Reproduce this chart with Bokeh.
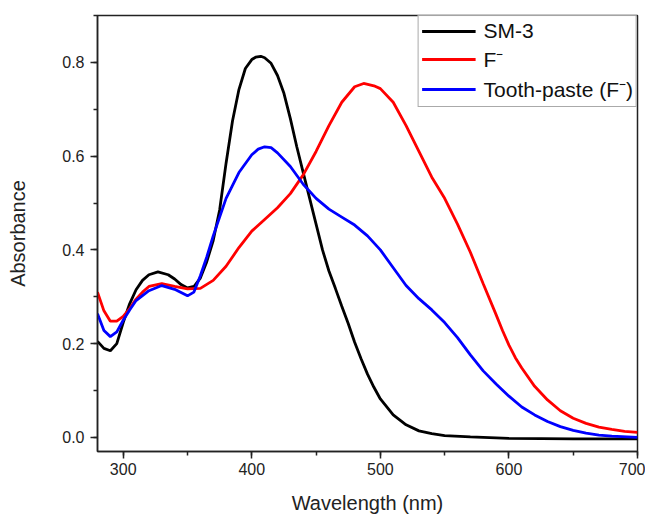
from bokeh.plotting import figure
from bokeh.models import Range1d, SingleIntervalTicker, Legend, LegendItem, NumeralTickFormatter
from bokeh.embed import file_html
from bokeh.resources import INLINE

# SM-3 (black)
sm3_x = [280, 285, 290, 295, 300, 305, 310, 315, 320, 327, 335, 340, 345, 350, 355, 360, 365, 370, 375,
         380, 385, 390, 395, 400, 403, 407, 410, 415, 420, 425, 430, 435, 440, 445, 450, 455, 460, 465, 470,
         475, 480, 485, 490, 495, 500, 510, 520, 530, 540, 550, 570, 600, 650, 700]
sm3_y = [0.205, 0.19, 0.185, 0.20, 0.245, 0.285, 0.315, 0.335, 0.347, 0.353, 0.347, 0.338, 0.326, 0.319,
         0.322, 0.34, 0.375, 0.42, 0.485, 0.585, 0.675, 0.742, 0.787, 0.806, 0.811, 0.813, 0.81, 0.798, 0.772,
         0.734, 0.68, 0.62, 0.565, 0.51, 0.455, 0.40, 0.355, 0.318, 0.28, 0.243, 0.203, 0.168, 0.135, 0.107,
         0.082, 0.048, 0.027, 0.014, 0.008, 0.004, 0.001, -0.002, -0.003, -0.003]

# F- (red)
f_x = [280, 285, 290, 295, 300, 305, 310, 315, 320, 330, 340, 350, 360, 370, 380, 390, 400, 410, 420,
       430, 440, 450, 460, 470, 480, 487, 495, 500, 510, 520, 530, 540, 550, 560, 570, 580, 590, 595, 600,
       605, 610, 620, 630, 640, 650, 660, 670, 680, 690, 700]
f_y = [0.31, 0.27, 0.248, 0.248, 0.258, 0.275, 0.295, 0.31, 0.322, 0.328, 0.322, 0.317, 0.318, 0.335,
       0.365, 0.405, 0.44, 0.465, 0.49, 0.52, 0.56, 0.61, 0.665, 0.715, 0.748, 0.755, 0.75, 0.744, 0.715,
       0.665, 0.61, 0.555, 0.51, 0.455, 0.395, 0.328, 0.262, 0.228, 0.197, 0.170, 0.148, 0.109, 0.08, 0.057,
       0.041, 0.03, 0.022, 0.017, 0.013, 0.011]

# Tooth-paste (F-) (blue)
tp_x = [280, 285, 290, 295, 300, 305, 310, 320, 330, 340, 350, 355, 360, 365, 370, 375, 380, 390, 400,
        405, 410, 415, 420, 430, 440, 450, 460, 470, 480, 490, 500, 510, 520, 530, 540, 550, 560, 570, 580,
        590, 600, 610, 620, 630, 640, 650, 660, 670, 680, 700]
tp_y = [0.264, 0.228, 0.215, 0.225, 0.25, 0.272, 0.292, 0.313, 0.324, 0.316, 0.302, 0.31, 0.345, 0.385,
        0.43, 0.47, 0.51, 0.565, 0.603, 0.615, 0.62, 0.618, 0.607, 0.578, 0.54, 0.51, 0.487, 0.47, 0.453,
        0.43, 0.40, 0.362, 0.324, 0.296, 0.272, 0.245, 0.213, 0.176, 0.142, 0.114, 0.088, 0.065, 0.048,
        0.034, 0.023, 0.015, 0.009, 0.005, 0.003, 0.0]

labels = ["SM-3", "F\u207b", "Tooth-paste (F\u207b)"]
colors = ["#000000", "#ff0000", "#0000ff"]

FONT = "Liberation Sans"

p = figure(width=645, height=516, output_backend="svg", toolbar_location=None,
           x_range=Range1d(280, 700), y_range=Range1d(-0.03, 0.9),
           min_border_left=97, min_border_right=8, min_border_top=15, min_border_bottom=65)

p.grid.visible = False
p.background_fill_color = "white"
p.border_fill_color = "white"
p.outline_line_color = "#222222"
p.outline_line_width = 1.5

r1 = p.line(sm3_x, sm3_y, line_color=colors[0], line_width=2.8)
r2 = p.line(f_x, f_y, line_color=colors[1], line_width=2.8)
r3 = p.line(tp_x, tp_y, line_color=colors[2], line_width=2.8)

p.xaxis.ticker = SingleIntervalTicker(interval=100, num_minor_ticks=2)
p.yaxis.ticker = SingleIntervalTicker(interval=0.2, num_minor_ticks=2)
p.yaxis.formatter = NumeralTickFormatter(format="0.0")

for ax in (p.xaxis[0], p.yaxis[0]):
    ax.axis_line_color = "#222222"
    ax.axis_line_width = 1.5
    ax.major_tick_line_color = "#222222"
    ax.minor_tick_line_color = "#222222"
    ax.major_tick_line_width = 1.5
    ax.minor_tick_line_width = 1.5
    ax.major_tick_out = 7
    ax.major_tick_in = 0
    ax.minor_tick_out = 4
    ax.minor_tick_in = 0
    ax.major_label_text_font = FONT
    ax.major_label_text_font_size = "16px"
    ax.major_label_text_color = "#222222"
    ax.axis_label_text_font = FONT
    ax.axis_label_text_font_size = "20px"
    ax.axis_label_text_font_style = "normal"
    ax.axis_label_text_color = "#222222"

p.xaxis.axis_label = "Wavelength (nm)"
p.yaxis.axis_label = "Absorbance"
p.xaxis.major_label_standoff = 4
p.xaxis.axis_label_standoff = 14
p.yaxis.major_label_standoff = 6
p.yaxis.axis_label_standoff = 30

legend = Legend(items=[LegendItem(label=labels[0], renderers=[r1]),
                       LegendItem(label=labels[1], renderers=[r2]),
                       LegendItem(label=labels[2], renderers=[r3])],
                location="top_right")
legend.margin = 0
legend.padding = 3
legend.spacing = 2
legend.border_line_color = "#555555"
legend.border_line_width = 1.2
legend.label_text_font = FONT
legend.label_text_font_size = "21px"
legend.label_text_color = "#111111"
legend.glyph_width = 54
legend.glyph_height = 20
legend.label_standoff = 8
legend.label_height = 20
p.add_layout(legend)

open("out.html", "w").write(file_html(p, INLINE))
